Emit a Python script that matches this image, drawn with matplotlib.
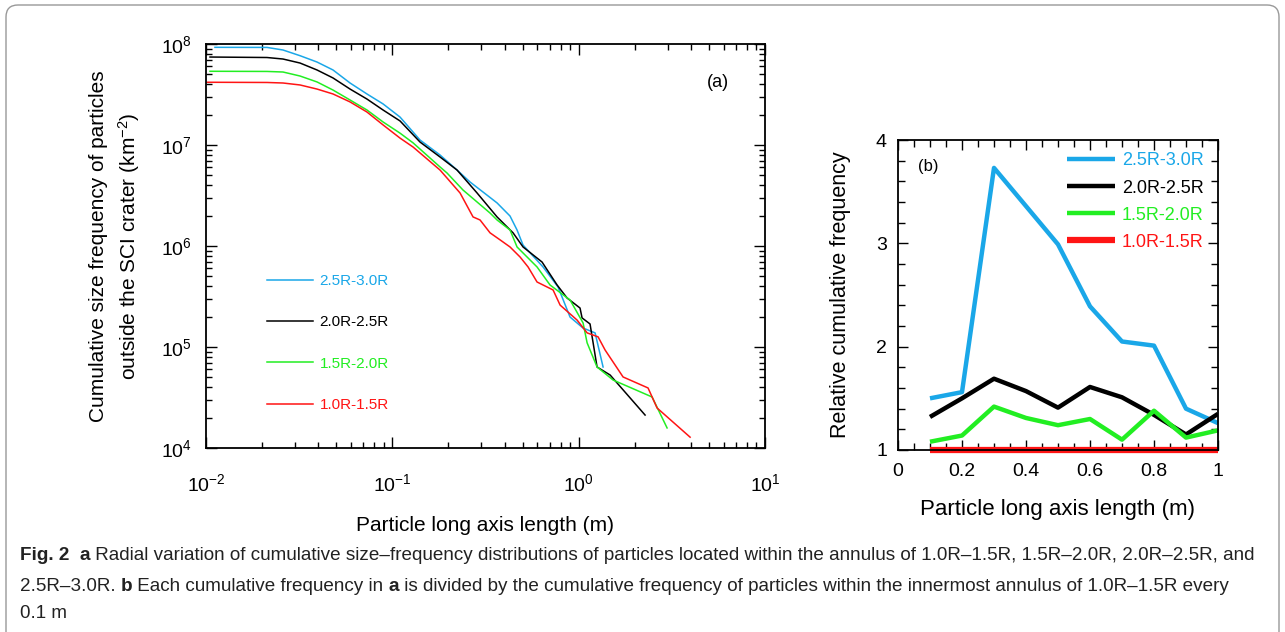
import matplotlib
matplotlib.use("Agg")
import matplotlib.pyplot as plt
import numpy as np
from matplotlib.patches import FancyBboxPatch
from matplotlib.ticker import LogLocator, MultipleLocator, NullFormatter

plt.rcParams['font.family'] = ['Liberation Sans', 'DejaVu Sans']
plt.rcParams['mathtext.fontset'] = 'custom'
plt.rcParams['mathtext.rm'] = 'Liberation Sans'
plt.rcParams['mathtext.it'] = 'Liberation Sans:italic'
plt.rcParams['mathtext.bf'] = 'Liberation Sans:bold'
plt.rcParams['axes.unicode_minus'] = False

# ---------------- data: panel (a) cumulative SFD ----------------
labels = ["2.5R-3.0R", "2.0R-2.5R", "1.5R-2.0R", "1.0R-1.5R"]
colors = ["#1aa7e8", "#000000", "#22ee22", "#ff1414"]

x_25_30 = [0.01117, 0.02125, 0.0259, 0.03196, 0.03943, 0.04805, 0.0593, 0.0731, 0.0892, 0.110,
           0.1408, 0.1803, 0.2225, 0.2613, 0.3069, 0.3648, 0.4282, 0.467, 0.503, 0.644, 0.775,
           0.899, 1.056, 1.225, 1.352]
y_25_30 = [9.27e7, 9.25e7, 8.72e7, 7.66e7, 6.63e7, 5.53e7, 4.11e7, 3.20e7, 2.55e7, 1.89e7,
           1.12e7, 7.96e6, 5.65e6, 4.30e6, 3.42e6, 2.67e6, 1.98e6, 1.44e6, 1.02e6, 6.20e5, 3.93e5,
           1.98e5, 1.54e5, 1.38e5, 6.34e4]

x_20_25 = [0.01051, 0.02125, 0.0259, 0.03196, 0.03943, 0.04805, 0.0593, 0.0731, 0.0892, 0.110,
           0.1408, 0.1803, 0.2225, 0.2849, 0.3648, 0.4445, 0.503, 0.636, 0.766, 0.866, 1.017,
           1.043, 1.151, 1.255, 1.475, 2.272]
y_20_25 = [7.43e7, 7.35e7, 7.10e7, 6.48e7, 5.53e7, 4.61e7, 3.58e7, 2.85e7, 2.22e7, 1.73e7,
           1.07e7, 7.61e6, 5.65e6, 3.35e6, 1.94e6, 1.35e6, 9.78e5, 6.94e5, 4.11e5, 3.06e5, 2.43e5,
           1.94e5, 1.69e5, 6.34e4, 5.28e4, 2.12e4]

x_15_20 = [0.01051, 0.02125, 0.0259, 0.03196, 0.03943, 0.04805, 0.0593, 0.0731, 0.0892, 0.110,
           0.1292, 0.1803, 0.1966, 0.2396, 0.3345, 0.3648, 0.4282, 0.467, 0.598, 0.702, 0.899,
           1.056, 1.110, 1.255, 1.530, 2.477, 2.982]
y_15_20 = [5.37e7, 5.35e7, 5.28e7, 4.82e7, 4.21e7, 3.50e7, 2.79e7, 2.22e7, 1.69e7, 1.31e7,
           1.05e7, 6.06e6, 5.28e6, 3.58e6, 2.12e6, 1.81e6, 1.44e6, 9.78e5, 6.20e5, 4.11e5, 2.92e5,
           1.73e5, 1.10e5, 6.34e4, 4.71e4, 3.20e4, 1.58e4]

x_10_15 = [0.01012, 0.02125, 0.0259, 0.03196, 0.03943, 0.04805, 0.0593, 0.0731, 0.0892, 0.110,
           0.1292, 0.1803, 0.2309, 0.2711, 0.2956, 0.3345, 0.3786, 0.4282, 0.4848, 0.5352, 0.598,
           0.729, 0.795, 0.980, 1.110, 1.271, 1.386, 1.731, 2.357, 2.635, 3.963]
y_10_15 = [4.18e7, 4.16e7, 4.11e7, 3.93e7, 3.58e7, 3.20e7, 2.67e7, 2.12e7, 1.58e7, 1.17e7,
           9.55e6, 5.65e6, 3.35e6, 1.94e6, 1.81e6, 1.35e6, 1.15e6, 9.78e5, 7.78e5, 6.20e5, 4.40e5,
           3.67e5, 2.60e5, 1.85e5, 1.38e5, 1.26e5, 9.34e4, 5.05e4, 3.93e4, 2.49e4, 1.28e4]

# ---------------- data: panel (b) relative cumulative frequency ----------------
x_b = [0.1, 0.2, 0.3, 0.4, 0.5, 0.6, 0.7, 0.8, 0.9, 1.0]
rel_25_30 = [1.50, 1.56, 3.73, 3.36, 2.99, 2.39, 2.05, 2.01, 1.40, 1.26]
rel_20_25 = [1.32, 1.50, 1.69, 1.57, 1.41, 1.61, 1.51, 1.34, 1.15, 1.35]
rel_15_20 = [1.08, 1.14, 1.42, 1.31, 1.24, 1.30, 1.10, 1.38, 1.12, 1.19]
rel_10_15 = [1.0, 1.0, 1.0, 1.0, 1.0, 1.0, 1.0, 1.0, 1.0, 1.0]

W, H = 1285, 632
fig = plt.figure(figsize=(W / 100, H / 100), dpi=100)

def axrect(l, t, r, b):
    return [l / W, 1 - b / H, (r - l) / W, (b - t) / H]

# background overlay (pixel coords) for frame + caption
bg = fig.add_axes([0, 0, 1, 1], zorder=-5)
bg.set_xlim(0, W)
bg.set_ylim(H, 0)
bg.axis('off')
bg.add_patch(FancyBboxPatch((6, 5), 1273, 700, boxstyle="round,pad=0,rounding_size=12",
                            fc='white', ec='#999999', lw=1.0))

# ---------------- panel (a) ----------------
axa = fig.add_axes(axrect(206, 44, 765, 448))
series_a = [(x_25_30, y_25_30), (x_20_25, y_20_25), (x_15_20, y_15_20), (x_10_15, y_10_15)]
for (xs, ys), c, lab in zip(series_a, colors, labels):
    axa.plot(xs, ys, color=c, lw=1.1, label=lab)
axa.set_xscale('log')
axa.set_yscale('log')
axa.set_xlim(1e-2, 1e1)
axa.set_ylim(1e4, 1e8)
axa.xaxis.set_major_locator(LogLocator(base=10, numticks=10))
axa.yaxis.set_major_locator(LogLocator(base=10, numticks=10))
axa.xaxis.set_minor_locator(LogLocator(base=10, subs=np.arange(2, 10), numticks=20))
axa.yaxis.set_minor_locator(LogLocator(base=10, subs=np.arange(2, 10), numticks=20))
axa.xaxis.set_minor_formatter(NullFormatter())
axa.yaxis.set_minor_formatter(NullFormatter())
axa.tick_params(which='both', direction='in', top=True, right=True, labelsize=14, width=1)
axa.tick_params(which='major', length=8)
axa.tick_params(which='minor', length=4.5)
axa.tick_params(axis='x', which='major', pad=18)
axa.tick_params(axis='y', which='major', pad=10)
for s in axa.spines.values():
    s.set_linewidth(1.3)
axa.set_xlabel("Particle long axis length (m)", fontsize=15, labelpad=15)
axa.set_ylabel("Cumulative size frequency of particles\noutside the SCI crater (km$^{-2}$)",
               fontsize=15, labelpad=14, linespacing=1.4)
axa.text(0.915, 0.905, "(a)", transform=axa.transAxes, fontsize=13, ha='center', va='center')
axa.legend(loc='upper left', bbox_to_anchor=(0.109, 0.43), frameon=False, fontsize=11,
           handlelength=3.0, handletextpad=0.45, labelspacing=1.78, borderpad=0,
           borderaxespad=0, labelcolor='linecolor')

# ---------------- panel (b) ----------------
axb = fig.add_axes(axrect(898, 140, 1218, 450))
series_b = [rel_25_30, rel_20_25, rel_15_20, rel_10_15]
lws = [3.2, 3.2, 3.2, 4.5]
for ys, c, lab, lw in zip(series_b, colors, labels, lws):
    axb.plot(x_b, ys, color=c, lw=lw, label=lab, clip_on=(lw < 4), solid_capstyle='butt')
axb.set_xlim(0, 1)
axb.set_ylim(1, 4)
axb.xaxis.set_major_locator(MultipleLocator(0.2))
axb.xaxis.set_minor_locator(MultipleLocator(0.05))
axb.yaxis.set_major_locator(MultipleLocator(1))
axb.yaxis.set_minor_locator(MultipleLocator(0.2))
axb.xaxis.set_major_formatter(plt.FuncFormatter(lambda v, p: "0" if abs(v) < 1e-9 else ("1" if abs(v - 1) < 1e-9 else f"{v:.1f}")))
axb.tick_params(which='both', direction='in', top=True, right=True, labelsize=14, width=1)
axb.tick_params(which='major', length=7)
axb.tick_params(which='minor', length=5)
axb.tick_params(axis='x', which='major', pad=9)
axb.tick_params(axis='y', which='major', pad=8)
for s in axb.spines.values():
    s.set_linewidth(1.3)
axb.set_xlabel("Particle long axis length (m)", fontsize=16, labelpad=14)
axb.set_ylabel("Relative cumulative frequency", fontsize=15.5, labelpad=18)
axb.text(0.095, 0.915, "(b)", transform=axb.transAxes, fontsize=12, ha='center', va='center')
axb.legend(loc='upper left', bbox_to_anchor=(0.527, 0.96), frameon=False, fontsize=13,
           handlelength=2.7, handletextpad=0.35, labelspacing=0.56, borderpad=0,
           borderaxespad=0, labelcolor='linecolor')

# ---------------- caption ----------------
cap_lines = [
    [("Fig. 2", True), ("  ", False), ("a", True),
     (" Radial variation of cumulative size\u2013frequency distributions of particles located within the annulus of 1.0R\u20131.5R, 1.5R\u20132.0R, 2.0R\u20132.5R, and", False)],
    [("2.5R\u20133.0R. ", False), ("b", True),
     (" Each cumulative frequency in ", False), ("a", True),
     (" is divided by the cumulative frequency of particles within the innermost annulus of 1.0R\u20131.5R every", False)],
    [("0.1 m", False)],
]
cap_y = [560, 591, 618]
cap_family = ['Liberation Sans Narrow', 'Liberation Sans', 'DejaVu Sans']
renderer = fig.canvas.get_renderer()

def draw_line(parts, y, size, draw=True):
    x = 20
    arts = []
    for txt, bold in parts:
        t = bg.text(x, y, txt, fontsize=size, fontweight='bold' if bold else 'normal',
                    family=cap_family, ha='left', va='baseline', color='#222222')
        bb = t.get_window_extent(renderer=renderer)
        x += bb.width
        arts.append(t)
    if not draw:
        for a in arts:
            a.remove()
    return x - 20

w0 = draw_line(cap_lines[0], cap_y[0], 10, draw=False)
size = 10 * 1242 / w0
for parts, y in zip(cap_lines, cap_y):
    draw_line(parts, y, size)

fig.savefig("out.png", dpi=100)
